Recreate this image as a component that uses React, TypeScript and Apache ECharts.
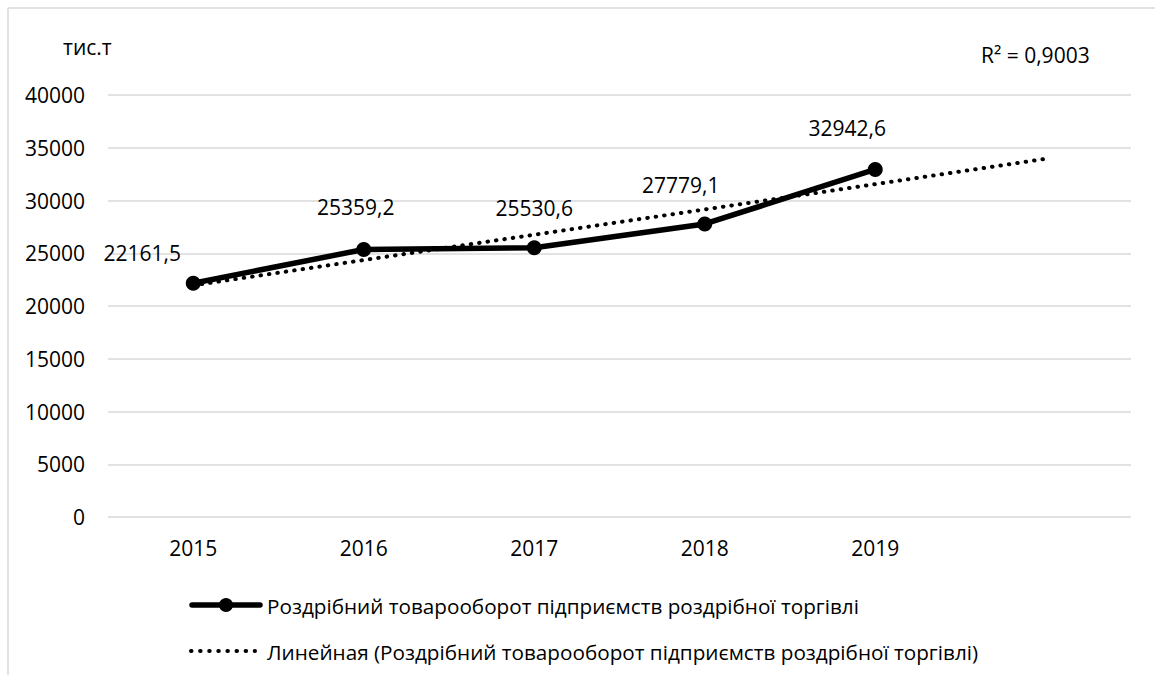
import React, { useEffect, useRef } from "react";
import * as echarts from "echarts";

const categories = ["2015", "2016", "2017", "2018", "2019", ""];
const retailValues = [22161.5, 25359.2, 25530.6, 27779.1, 32942.6];
const trendValues = [21958, 24356, 26755, 29153, 31551, 33949];
const labelOffsets = [
  [-51, -30],
  [-8, -42],
  [0, -40],
  [-24, -39],
  [-28, -41],
];
const seriesName = "Роздрібний товарооборот підприємств роздрібної торгівлі";
const trendName = "Линейная (Роздрібний товарооборот підприємств роздрібної торгівлі)";
const unitLabel = "тис.т";
const r2Label = "R² = 0,9003";

const FONT = "'Open Sans', 'Noto Sans', sans-serif";

export default function App() {
  const ref = useRef<HTMLDivElement>(null);
  useEffect(() => {
    if (!ref.current) return;
    const chart = echarts.init(ref.current, undefined, { renderer: "svg" });
    chart.setOption({
      animation: false,
      backgroundColor: "#ffffff",
      textStyle: { fontFamily: FONT },
      grid: { left: 108, right: 24, top: 95, bottom: 158 },
      xAxis: {
        type: "category",
        data: categories,
        boundaryGap: true,
        axisLine: { show: false },
        axisTick: { show: false },
        axisLabel: { color: "#000", fontSize: 21, margin: 20, fontFamily: FONT },
      },
      yAxis: {
        type: "value",
        min: 0,
        max: 40000,
        interval: 5000,
        axisLine: { show: false },
        axisTick: { show: false },
        axisLabel: {
          color: "#000",
          fontSize: 21,
          margin: 23,
          fontFamily: FONT,
          formatter: (v: number) => String(v),
        },
        splitLine: { lineStyle: { color: "#d9d9d9", width: 1.5 } },
      },
      legend: {
        orient: "vertical",
        left: 190,
        top: 590,
        itemWidth: 72,
        itemHeight: 16,
        itemGap: 25,
        textStyle: { color: "#000", fontSize: 20.7, fontFamily: FONT, padding: [0, 0, 0, -5] },
        data: [
          { name: seriesName, icon: "rect", itemStyle: { opacity: 0 } },
          { name: trendName, icon: "rect", itemStyle: { opacity: 0 } },
        ],
      },
      series: [
        {
          name: seriesName,
          type: "line",
          data: retailValues.map((v, i) => ({
            value: v,
            label: {
              show: true,
              position: "inside",
              offset: labelOffsets[i],
              formatter: String(v).replace(".", ","),
              color: "#000",
              fontSize: 21,
              fontFamily: FONT,
            },
          })),
          symbol: "circle",
          symbolSize: 15,
          itemStyle: { color: "#000" },
          lineStyle: { color: "#000", width: 5.5 },
          z: 3,
        },
        {
          name: trendName,
          type: "line",
          data: trendValues,
          symbol: "none",
          itemStyle: { color: "#000" },
          lineStyle: { color: "#000", width: 4, type: [0.5, 8], cap: "round" },
          z: 2,
        },
      ],
      graphic: [
        { type: "line", shape: { x1: 8, y1: 8, x2: 1155, y2: 8 }, style: { stroke: "#d9d9d9", lineWidth: 1.5 } },
        { type: "line", shape: { x1: 8, y1: 8, x2: 8, y2: 675 }, style: { stroke: "#d9d9d9", lineWidth: 1.5 } },
        { type: "text", left: 63, top: 36, style: { text: unitLabel, fill: "#000", fontSize: 21, fontFamily: FONT } },
        { type: "text", left: 981, top: 44, style: { text: r2Label, fill: "#000", fontSize: 21, fontFamily: FONT } },
        {
          type: "line",
          shape: { x1: 192, y1: 605, x2: 260, y2: 605 },
          style: { stroke: "#000", lineWidth: 5.5, lineCap: "round" },
          z: 10,
        },
        { type: "circle", shape: { cx: 226, cy: 605, r: 7 }, style: { fill: "#000" }, z: 11 },
        {
          type: "line",
          shape: { x1: 191, y1: 651, x2: 255, y2: 651 },
          style: { stroke: "#000", lineWidth: 4, lineCap: "round", lineDash: [0.5, 8.6] },
          z: 10,
        },
      ],
    });
    return () => chart.dispose();
  }, []);
  return (
    <div
      ref={ref}
      style={{ position: "absolute", left: 0, top: 0, width: 1155, height: 675 }}
    />
  );
}
